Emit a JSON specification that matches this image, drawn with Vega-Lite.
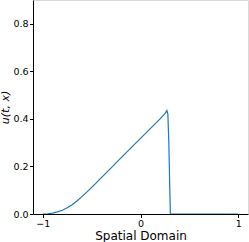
{
  "$schema": "https://vega.github.io/schema/vega-lite/v6.json",
  "autosize": "none",
  "width": 215,
  "height": 214,
  "padding": {"left": 33, "top": 0, "right": 1, "bottom": 28},
  "background": "white",
  "config": {
    "view": {"stroke": "#d9d9d9", "strokeWidth": 1},
    "font": "DejaVu Sans",
    "axis": {
      "grid": false,
      "domainColor": "black",
      "domainWidth": 1,
      "tickColor": "black",
      "tickSize": 3.5,
      "labelFont": "DejaVu Sans",
      "labelFontSize": 9.5,
      "labelColor": "black",
      "titleFont": "DejaVu Sans",
      "titleFontWeight": "normal",
      "titleColor": "black"
    }
  },
  "data": {
    "values": [
      {"x": -1.0, "u": 0.0},
      {"x": -0.95, "u": 0.001},
      {"x": -0.9, "u": 0.004},
      {"x": -0.85, "u": 0.009},
      {"x": -0.8, "u": 0.016},
      {"x": -0.75, "u": 0.026},
      {"x": -0.7, "u": 0.039},
      {"x": -0.65, "u": 0.055},
      {"x": -0.6, "u": 0.073},
      {"x": -0.55, "u": 0.092},
      {"x": -0.5, "u": 0.112},
      {"x": -0.45, "u": 0.132},
      {"x": -0.4, "u": 0.153},
      {"x": -0.3, "u": 0.194},
      {"x": -0.2, "u": 0.236},
      {"x": -0.1, "u": 0.277},
      {"x": 0.0, "u": 0.318},
      {"x": 0.1, "u": 0.359},
      {"x": 0.2, "u": 0.400},
      {"x": 0.25, "u": 0.422},
      {"x": 0.27, "u": 0.435},
      {"x": 0.28, "u": 0.42},
      {"x": 0.29, "u": 0.3},
      {"x": 0.3, "u": 0.1},
      {"x": 0.306, "u": 0.0},
      {"x": 0.4, "u": 0.0},
      {"x": 0.6, "u": 0.0},
      {"x": 0.8, "u": 0.0},
      {"x": 1.0, "u": 0.0}
    ]
  },
  "mark": {"type": "line", "color": "#1f77b4", "strokeWidth": 1.2, "clip": true},
  "encoding": {
    "x": {
      "field": "x",
      "type": "quantitative",
      "scale": {"domain": [-1.1, 1.1], "nice": false, "zero": false},
      "axis": {"values": [-1, 0, 1], "format": "d", "title": "Spatial Domain", "titleFontSize": 12, "titlePadding": 2, "labelPadding": 1}
    },
    "y": {
      "field": "u",
      "type": "quantitative",
      "scale": {"domain": [0, 0.9], "nice": false},
      "axis": {"values": [0, 0.2, 0.4, 0.6, 0.8], "format": ".1f", "title": "u(t, x)", "titleFontStyle": "italic", "titleFontSize": 11, "titlePadding": 2, "labelPadding": 1.5}
    }
  }
}
